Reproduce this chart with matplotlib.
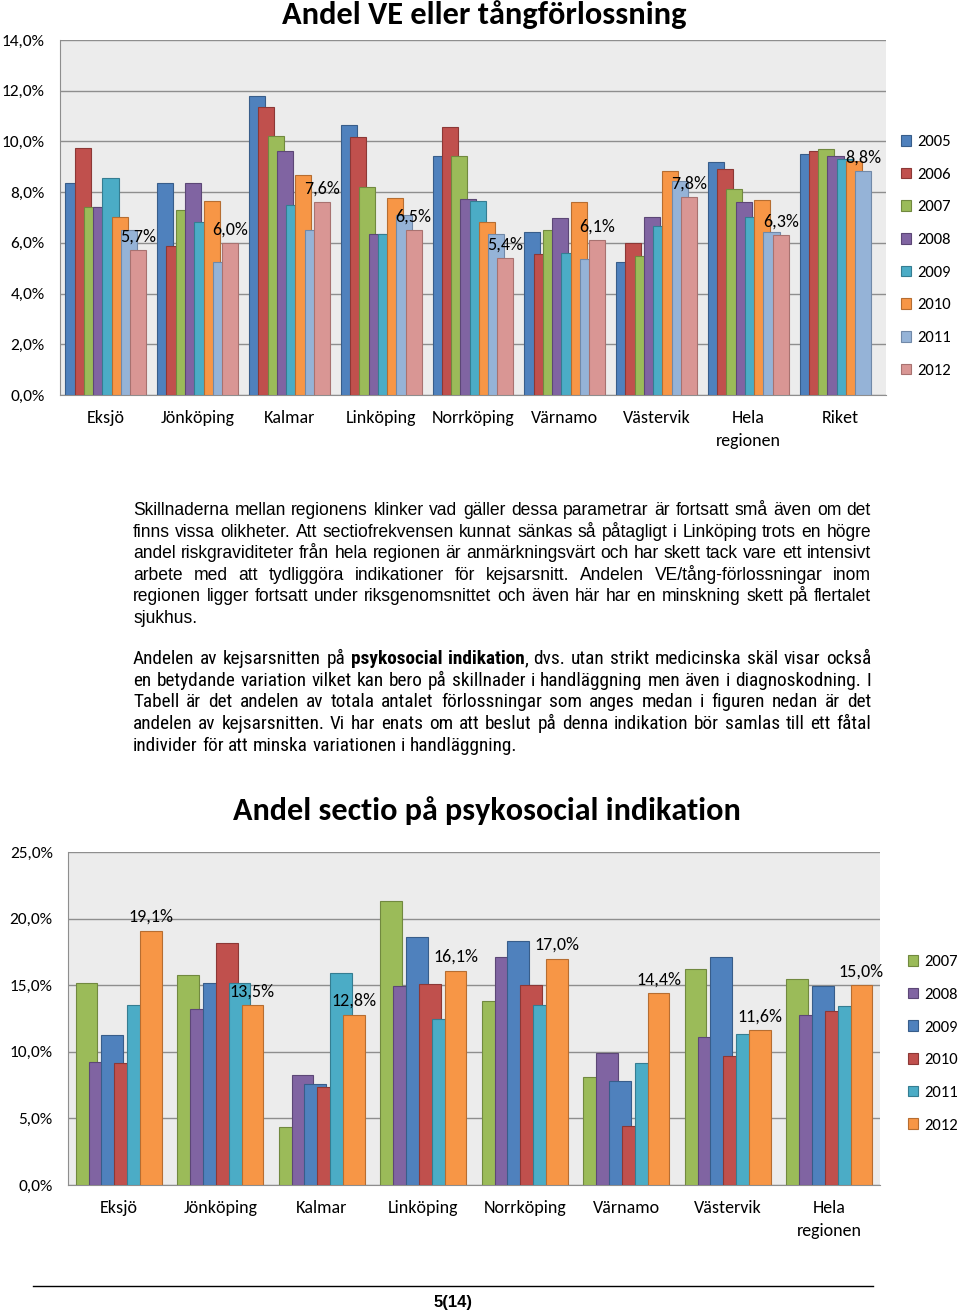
import matplotlib
matplotlib.use("Agg")
import matplotlib.pyplot as plt
from matplotlib import font_manager
from matplotlib.lines import Line2D
import numpy as np

# ---- data: VE / tång deliveries (%) ----
sites_ve = ["Eksjö", "Jönköping", "Kalmar", "Linköping", "Norrköping",
            "Värnamo", "Västervik", "Hela\nregionen", "Riket"]
years_ve = ["2005", "2006", "2007", "2008", "2009", "2010", "2011", "2012"]
ve_2005 = [8.36, 8.38, 11.80, 10.66, 9.41, 6.41, 5.25, 9.18, 9.51]
ve_2006 = [9.75, 5.88, 11.36, 10.16, 10.58, 5.57, 5.99, 8.91, 9.63]
ve_2007 = [7.40, 7.30, 10.20, 8.20, 9.41, 6.50, 5.49, 8.12, 9.71]
ve_2008 = [7.42, 8.38, 9.63, 6.36, 7.74, 6.99, 7.02, 7.62, 9.41]
ve_2009 = [8.55, 6.83, 7.51, 6.36, 7.64, 5.61, 6.67, 7.02, 9.32]
ve_2010 = [7.02, 7.64, 8.69, 7.75, 6.83, 7.63, 8.84, 7.70, 9.21]
ve_2011 = [6.51, 5.24, 6.49, 7.11, 6.34, 5.38, 8.42, 6.43, 8.82]
ve_2012 = [5.70, 6.00, 7.60, 6.50, 5.40, 6.10, 7.80, 6.30, np.nan]
ve_ticks = [0, 2, 4, 6, 8, 10, 12, 14]

# ---- data: sectio on psychosocial indication (%) ----
sites_ps = ["Eksjö", "Jönköping", "Kalmar", "Linköping", "Norrköping",
            "Värnamo", "Västervik", "Hela\nregionen"]
years_ps = ["2007", "2008", "2009", "2010", "2011", "2012"]
ps_2007 = [15.19, 15.80, 4.38, 21.31, 13.78, 8.10, 16.20, 15.49]
ps_2008 = [9.23, 13.25, 8.27, 14.94, 17.10, 9.93, 11.09, 12.80]
ps_2009 = [11.27, 15.14, 7.62, 18.59, 18.31, 7.80, 17.08, 14.97]
ps_2010 = [9.15, 18.14, 7.32, 15.09, 15.04, 4.43, 9.68, 13.08]
ps_2011 = [13.51, 15.17, 15.95, 12.45, 13.51, 9.15, 11.37, 13.41]
ps_2012 = [19.10, 13.50, 12.80, 16.10, 17.00, 14.40, 11.60, 15.00]
ps_ticks = [0, 5, 10, 15, 20, 25]

# Excel 2007 style colours (fill, edge)
col = {
    "blue": ("#4F81BD", "#385D8A"),
    "red": ("#C0504D", "#8C3836"),
    "green": ("#9BBB59", "#71893F"),
    "purple": ("#8064A2", "#5C4776"),
    "cyan": ("#4BACC6", "#357D91"),
    "orange": ("#F79646", "#B66D31"),
    "lblue": ("#95B3D7", "#7189A8"),
    "pink": ("#D99694", "#A87270"),
}
ve_colors = ["blue", "red", "green", "purple", "cyan", "orange", "lblue", "pink"]
ps_colors = ["green", "purple", "blue", "red", "cyan", "orange"]

W, H = 960, 1314

available = {f.name for f in font_manager.fontManager.ttflist}


def pick(*names):
    for n in names:
        if n in available:
            return n
    return "DejaVu Sans"


chart_font = pick("Carlito", "Lato", "Open Sans")
body_font = pick("Liberation Sans", "Arial", "DejaVu Sans")
narrow_font = pick("Liberation Sans Narrow", "Arial Narrow", "Roboto Condensed", "Liberation Sans")


def rect(left, top, right, bottom):
    return [left / W, 1 - bottom / H, (right - left) / W, (bottom - top) / H]


def pct(v):
    return ("%.1f" % v).replace(".", ",") + "%"


fig = plt.figure(figsize=(W / 100, H / 100), dpi=100)
renderer = fig.canvas.get_renderer()


def text_width(s, size, family, weight="normal"):
    t = fig.text(0, 0, s, fontsize=size, family=family, fontweight=weight)
    w = t.get_window_extent(renderer).width
    t.remove()
    return w


def fit_title(text, xc, yc, target_w):
    w = text_width(text, 20, chart_font, "bold")
    fig.text(xc / W, 1 - yc / H, text, ha="center", va="center",
             fontsize=20 * target_w / w, fontweight="bold", family=chart_font)


def bar_chart(ax, sites, years, series, colors, ticks, width, step, legend_xy):
    x = np.arange(len(sites))
    n = len(series)
    offs = (np.arange(n) - (n - 1) / 2) * step
    handles = []
    for i, (vals, c) in enumerate(zip(series, colors)):
        b = ax.bar(x + offs[i], vals, width, color=col[c][0], edgecolor=col[c][1],
                   linewidth=0.8, zorder=3 + i)
        handles.append(b)
    # label the last available series in every group
    for j in range(len(sites)):
        for i in range(n - 1, -1, -1):
            v = series[i][j]
            if not np.isnan(v):
                ax.annotate(pct(v), (x[j] + offs[i], v), xytext=(0, 4),
                            textcoords="offset points", ha="center", va="bottom",
                            fontsize=13, family=chart_font, zorder=30)
                break
    ax.set_xlim(-0.5, len(sites) - 0.5)
    ax.set_ylim(ticks[0], ticks[-1])
    ax.set_yticks(ticks)
    ax.set_yticklabels([("%.1f" % t).replace(".", ",") + "%" for t in ticks],
                       family=chart_font, fontsize=12.5)
    ax.set_xticks(x)
    ax.set_xticklabels(sites, family=chart_font, fontsize=13, linespacing=1.55)
    ax.tick_params(axis="both", length=0)
    ax.tick_params(axis="y", pad=11)
    ax.tick_params(axis="x", pad=11)
    ax.set_facecolor("#ECECEC")
    ax.yaxis.grid(True, color="#8E8E8E", linewidth=1.0)
    ax.set_axisbelow(True)
    for s in ["top", "right"]:
        ax.spines[s].set_visible(False)
    for s in ["left", "bottom"]:
        ax.spines[s].set_color("#8E8E8E")
    ax.legend(handles, years, loc="upper left",
              bbox_to_anchor=(legend_xy[0] / W, 1 - legend_xy[1] / H),
              bbox_transform=fig.transFigure, frameon=False,
              prop={"family": chart_font, "size": 12},
              handlelength=0.6, handleheight=0.6, handletextpad=0.35,
              labelspacing=1.11, borderpad=0, borderaxespad=0)


# ---- top chart ----
ax1 = fig.add_axes(rect(60, 40, 886, 395))
bar_chart(ax1, sites_ve, years_ve,
          [ve_2005, ve_2006, ve_2007, ve_2008, ve_2009, ve_2010, ve_2011, ve_2012],
          ve_colors, ve_ticks, 0.175, 0.101, (901, 135))
fit_title("Andel VE eller tångförlossning", 484, 15, 404)

# ---- bottom chart ----
ax2 = fig.add_axes(rect(68, 852, 880, 1185))
bar_chart(ax2, sites_ps, years_ps,
          [ps_2007, ps_2008, ps_2009, ps_2010, ps_2011, ps_2012],
          ps_colors, ps_ticks, 0.213, 0.127, (908, 955))
fit_title("Andel sectio på psykosocial indikation", 487, 811, 509)

# ---- body text, justified ----
para1 = [
    "Skillnaderna mellan regionens klinker vad gäller dessa parametrar är fortsatt små även om det",
    "finns vissa olikheter. Att sectiofrekvensen kunnat sänkas så påtagligt i Linköping trots en högre",
    "andel riskgraviditeter från hela regionen är anmärkningsvärt och har skett tack vare ett intensivt",
    "arbete med att tydliggöra indikationer för kejsarsnitt. Andelen VE/tång-förlossningar inom",
    "regionen ligger fortsatt under riksgenomsnittet och även här har en minskning skett på flertalet",
    "sjukhus.",
]
para2 = [
    "Andelen av kejsarsnitten på *psykosocial* *indikation*, dvs. utan strikt medicinska skäl visar också",
    "en betydande variation vilket kan bero på skillnader i handläggning men även i diagnoskodning. I",
    "Tabell är det andelen av totala antalet förlossningar som anges medan i figuren nedan är det",
    "andelen av kejsarsnitten. Vi har enats om att beslut på denna indikation bör samlas till ett fåtal",
    "individer för att minska variationen i handläggning.",
]


def natural_width(line, size, family):
    # width of a line set with ordinary spaces (bold markers removed)
    return text_width(line.replace("*", ""), size, family)


def paragraph(lines, x0, x1, base0, dy, family, ref_line, slack):
    # pick the size at which the reference line just fills the column
    size = 12 * (x1 - x0 - slack) / natural_width(lines[ref_line], 12, family)
    space = natural_width("a a", size, family) - natural_width("aa", size, family)
    for k, line in enumerate(lines):
        y = 1 - (base0 + k * dy) / H
        words = []
        for word in line.split(" "):
            pieces = []
            for m, part in enumerate(word.split("*")):
                if part:
                    t = fig.text(0, y, part, fontsize=size, family=family,
                                 fontweight="bold" if m % 2 else "normal",
                                 va="baseline", ha="left")
                    pieces.append((t, t.get_window_extent(renderer).width))
            words.append(pieces)
        widths = [sum(p[1] for p in w) for w in words]
        last = k == len(lines) - 1
        if last or len(words) < 2:
            gap = space
        else:
            gap = (x1 - x0 - sum(widths)) / (len(words) - 1)
        xpos = x0
        for w, ww in zip(words, widths):
            xp = xpos
            for t, tw in w:
                t.set_x(xp / W)
                xp += tw
            xpos += ww + gap


paragraph(para1, 133, 871, 515, 21.6, body_font, 0, 4)
paragraph(para2, 133, 871, 664, 21.75, narrow_font, 1, 6)

# ---- footer ----
fig.add_artist(Line2D([33 / W, 873 / W], [1 - 1286 / H] * 2, color="black", linewidth=1))
fig.text(453 / W, 1 - 1302 / H, "5(14)", ha="center", va="center",
         fontsize=12, fontweight="bold", family=body_font)

fig.savefig("out.png", dpi=100)
